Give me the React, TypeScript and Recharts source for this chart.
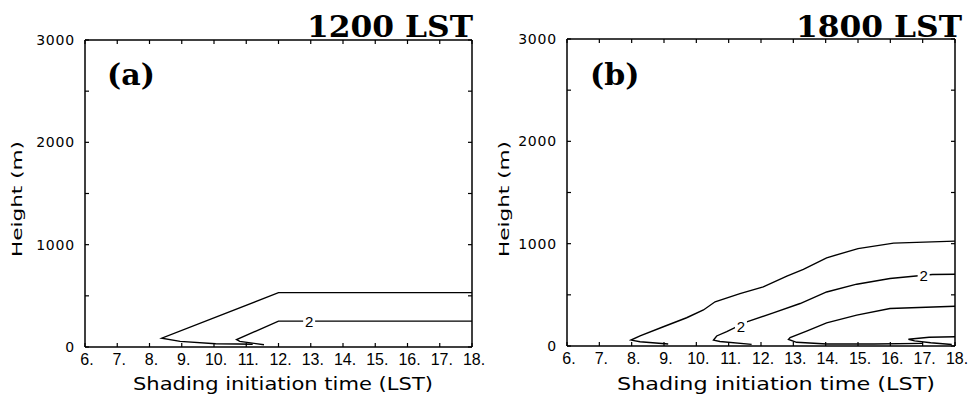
import React from "react";
import { LineChart, Line, XAxis, YAxis, ReferenceDot, Customized } from "recharts";

// shading initiation time (LST) ticks and height ticks (m)
const HOURS = [6, 7, 8, 9, 10, 11, 12, 13, 14, 15, 16, 17, 18];
const HEIGHT_TICKS = [0, 500, 1000, 1500, 2000, 2500, 3000];

// panel (a) 1200 LST contours: hours / heights
const A1_H = [18, 12, 8.38, 8.95, 10.05, 10.75, 11.2];
const A1_M = [531, 531, 86, 55, 32, 30, 27];
const A2_H = [18, 12, 10.7, 10.8, 11.55];
const A2_M = [253, 253, 72, 55, 22];

// panel (b) 1800 LST contours
const B1_H = [18, 16.1, 15.0, 14.03, 13.31, 12.8, 12.07, 11.35, 10.58, 10.22, 9.7, 8.98, 8.26, 7.98, 8.26, 9.13];
const B1_M = [1025, 1005, 952, 862, 748, 682, 578, 512, 432, 352, 276, 188, 98, 58, 42, 19];
const B2_H = [18, 17.3, 16.71, 15.99, 14.96, 14.03, 13.21, 12.38, 11.56, 10.94, 10.63, 10.53, 10.73, 11.71];
const B2_M = [701, 699, 682, 659, 604, 528, 415, 324, 236, 140, 98, 58, 44, 16];
const B3_H = [18, 15.99, 14.96, 14.03, 13.41, 12.9, 12.85, 13.1, 14.03, 15.5, 17.0];
const B3_M = [389, 367, 302, 226, 146, 82, 65, 36, 20, 20, 26];
const B4_H = [18, 17.2, 16.56, 16.75, 17.25, 17.9];
const B4_M = [91, 86, 66, 50, 32, 15];

// contour labels ("2")
const A_LABEL_H = [12.95];
const A_LABEL_M = [250];
const B_LABEL_H = [11.38, 17.03];
const B_LABEL_M = [186, 690];

const toPts = (h: number[], m: number[]) => h.map((v, i) => ({ h: v, m: m[i] }));

const SANS = "'DejaVu Sans', sans-serif";
const SERIF = "'DejaVu Serif', serif";

const XTick = (props: any) => {
  const { x, y, payload } = props;
  const n = payload.value as number;
  return (
    <g>
      <line x1={x} x2={x} y1={y} y2={y - 4} stroke="#000" strokeWidth={1.2} />
      <text
        x={x + 2}
        y={y + 18}
        textAnchor="middle"
        fontFamily="'Liberation Sans', Arial, sans-serif"
        fontSize={16}
        fill="#000"
      >
        {`${n}.`}
      </text>
    </g>
  );
};

const YTick = (props: any) => {
  const { x, y, payload } = props;
  const v = payload.value as number;
  return (
    <g>
      <line x1={x} x2={x + 4} y1={y} y2={y} stroke="#000" strokeWidth={1.2} />
      {v % 1000 === 0 && (
        <text x={x - 10} y={y + 5} textAnchor="end" fontFamily={SANS} fontSize={14} letterSpacing={0.8} fill="#000">
          {v}
        </text>
      )}
    </g>
  );
};

const NoText = () => <g />;

interface PanelProps {
  lines: { h: number; m: number }[][];
  labelH: number[];
  labelM: number[];
  title: string;
  tag: string;
  width: number;
  margin: { top: number; right: number; bottom: number; left: number };
  titleX: number;
  tagX: number;
  yTitleX: number;
  xTitleLen: number;
  xTitleX: number;
}

function Panel(p: PanelProps) {
  const axisLine = { stroke: "#000", strokeWidth: 1.5 };
  const last = p.lines.length - 1;
  return (
    <LineChart width={p.width} height={395} margin={p.margin}>
      <XAxis
        dataKey="h"
        type="number"
        domain={[6, 18]}
        ticks={HOURS}
        interval={0}
        allowDataOverflow
        axisLine={axisLine}
        tickLine={false}
        tickSize={0}
        tickMargin={0}
        height={30}
        tick={<XTick />}
      />
      <XAxis
        xAxisId="top"
        dataKey="h"
        orientation="top"
        mirror
        type="number"
        domain={[6, 18]}
        ticks={HOURS}
        interval={0}
        allowDataOverflow
        axisLine={axisLine}
        tickLine={{ stroke: "#000", strokeWidth: 1.2 }}
        tickSize={4}
        height={1}
        tick={NoText}
      />
      <YAxis
        type="number"
        domain={[0, 3000]}
        ticks={HEIGHT_TICKS}
        interval={0}
        allowDataOverflow
        axisLine={axisLine}
        tickLine={false}
        tickSize={0}
        tickMargin={0}
        width={60}
        tick={<YTick />}
      />
      <YAxis
        yAxisId="right"
        orientation="right"
        mirror
        type="number"
        domain={[0, 3000]}
        ticks={HEIGHT_TICKS}
        interval={0}
        allowDataOverflow
        axisLine={axisLine}
        tickLine={{ stroke: "#000", strokeWidth: 1.2 }}
        tickSize={4}
        width={1}
        tick={NoText}
      />
      {p.lines.map((d, i) => (
        <Line
          key={i}
          data={d}
          dataKey="m"
          xAxisId={i === last ? "top" : 0}
          yAxisId={i === last ? "right" : 0}
          type="linear"
          stroke="#000"
          strokeWidth={1.4}
          dot={false}
          activeDot={false}
          isAnimationActive={false}
        />
      ))}
      {p.labelH.map((h, i) => (
        <ReferenceDot
          key={`l${i}`}
          x={h}
          y={p.labelM[i]}
          r={0}
          ifOverflow="visible"
          shape={(s: any) => (
            <g>
              <rect x={s.cx - 6} y={s.cy - 7} width={12} height={14} fill="#fff" />
              <text x={s.cx} y={s.cy + 5.5} textAnchor="middle" fontFamily="'Liberation Sans', Arial, sans-serif" fontSize={15} fill="#000">
                2
              </text>
            </g>
          )}
        />
      ))}
      <Customized
        component={() => (
          <g>
            <text x={p.titleX} y={37} textAnchor="end" fontFamily={SERIF} fontWeight="bold" fontSize={29} textLength={166} lengthAdjust="spacingAndGlyphs" fill="#000">
              {p.title}
            </text>
            <text x={p.tagX} y={85} fontFamily={SERIF} fontWeight="bold" fontSize={30} fill="#000">
              {p.tag}
            </text>
            <text
              x={p.yTitleX}
              y={199}
              textAnchor="middle"
              transform={`rotate(-90 ${p.yTitleX} 199)`}
              fontFamily={SANS}
              fontSize={14}
              textLength={116}
              lengthAdjust="spacingAndGlyphs"
              fill="#000"
            >
              Height (m)
            </text>
            <text x={p.xTitleX} y={390} textAnchor="middle" fontFamily={SANS} fontSize={18} textLength={p.xTitleLen} lengthAdjust="spacingAndGlyphs" fill="#000">
              Shading initiation time (LST)
            </text>
          </g>
        )}
      />
    </LineChart>
  );
}

export default function App() {
  const linesA = [toPts(A1_H, A1_M), toPts(A2_H, A2_M)];
  const linesB = [toPts(B1_H, B1_M), toPts(B2_H, B2_M), toPts(B3_H, B3_M), toPts(B4_H, B4_M)];
  return (
    <div style={{ position: "absolute", left: 0, top: 0, width: 969, height: 395, background: "#fff" }}>
      <div style={{ position: "absolute", left: 0, top: 0 }}>
        <Panel
          lines={linesA}
          labelH={A_LABEL_H}
          labelM={A_LABEL_M}
          title="1200 LST"
          tag="(a)"
          width={487}
          margin={{ top: 40, right: 15, bottom: 18, left: 25 }}
          titleX={473}
          tagX={107}
          yTitleX={22}
          xTitleLen={300}
          xTitleX={283}
        />
      </div>
      <div style={{ position: "absolute", left: 482, top: 0 }}>
        <Panel
          lines={linesB}
          labelH={B_LABEL_H}
          labelM={B_LABEL_M}
          title="1800 LST"
          tag="(b)"
          width={487}
          margin={{ top: 39, right: 14, bottom: 19, left: 25 }}
          titleX={480}
          tagX={108}
          yTitleX={27}
          xTitleLen={318}
          xTitleX={294}
        />
      </div>
    </div>
  );
}
